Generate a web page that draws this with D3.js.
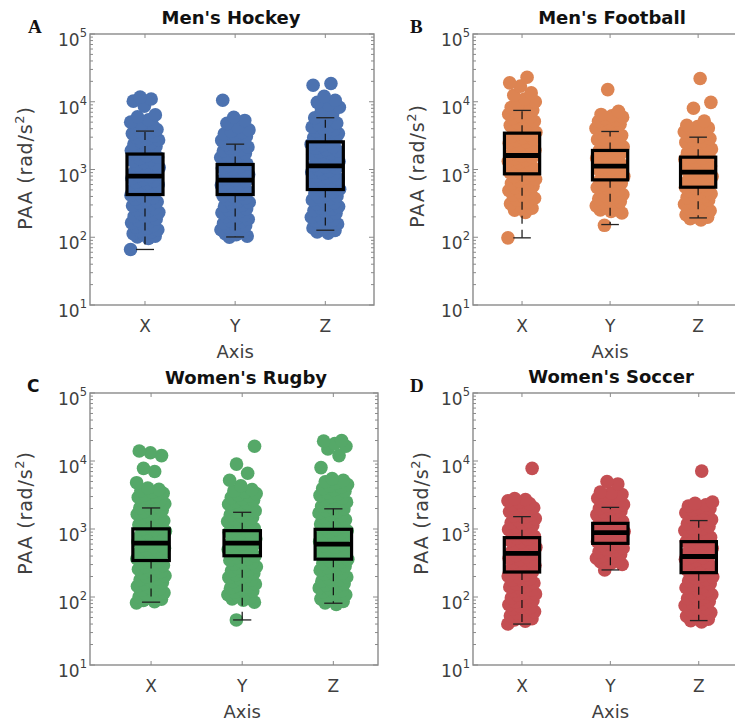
<!DOCTYPE html>
<html>
<head>
<meta charset="utf-8">
<script src="https://cdn.jsdelivr.net/npm/d3@7"></script>
<style>
  body { margin: 0; background: #fff; }
  svg { display: block; }
</style>
</head>
<body>
<div id="app"></div>
<script>
const categories = ['X', 'Y', 'Z'];
const yTickValues = [10, 100, 1000, 10000, 100000];

// box stats per axis: [lower whisker, q1, median, q3, upper whisker]
const hockeyBox = [[66, 427, 797, 1690, 3690], [101, 427, 695, 1186, 2366], [127, 506, 1133, 2560, 5810]];
const footballBox = [[98, 863, 1610, 3440, 7450], [154, 703, 1120, 1910, 3640], [193, 548, 913, 1520, 3000]];
const rugbyBox = [[84, 344, 620, 1005, 2040], [46, 404, 620, 945, 1760], [81, 360, 600, 990, 1980]];
const soccerBox = [[40, 233, 438, 746, 1520], [250, 615, 883, 1210, 2080], [45, 228, 394, 652, 1330]];

// PAA samples (rad/s^2)
const hockeyX = [66, 96, 101, 104, 110, 113, 119, 125, 129, 136, 142, 149, 155, 163, 170, 177, 186, 194, 203, 212, 222, 233, 244, 255, 266,
  279, 292, 305, 319, 334, 350, 366, 383, 400, 418, 437, 456, 478, 499, 522, 546, 571, 597, 624, 652, 682, 713, 746, 780, 815, 852, 891,
  932, 975, 1019, 1066, 1114, 1165, 1218, 1274, 1332, 1393, 1457, 1523, 1593, 1666, 1742, 1821, 1905, 1992, 2083, 2178, 2278, 2382, 2491,
  2605, 2724, 2848, 2979, 3115, 3257, 3406, 3562, 3725, 3895, 4073, 4260, 4455, 4650, 5000, 5400, 6000, 6400, 8600, 10200, 11000, 11700];
const hockeyY = [100, 104, 109, 113, 118, 124, 129, 135, 141, 148, 154, 161, 169, 176, 184, 193, 201, 210, 220, 230, 241, 252, 263, 275,
  288, 301, 315, 329, 344, 360, 377, 394, 412, 431, 451, 471, 493, 515, 539, 563, 589, 616, 644, 673, 704, 736, 770, 805, 842, 880, 920,
  962, 1006, 1052, 1100, 1150, 1203, 1258, 1315, 1375, 1438, 1504, 1572, 1644, 1719, 1797, 1879, 1965, 2055, 2149, 2247, 2350, 2457,
  2569, 2686, 2809, 2937, 3071, 3211, 3358, 3511, 3671, 3840, 4300, 4800, 5300, 5900, 10500];
const hockeyZ = [115, 120, 126, 131, 137, 144, 150, 157, 165, 172, 180, 189, 197, 207, 216, 226, 237, 248, 259, 271, 284, 297, 311, 325,
  340, 356, 372, 389, 407, 426, 446, 466, 488, 510, 534, 558, 584, 611, 639, 669, 699, 732, 765, 801, 838, 876, 917, 959, 1003, 1049,
  1098, 1148, 1201, 1257, 1315, 1375, 1439, 1505, 1574, 1647, 1723, 1802, 1885, 1972, 2063, 2158, 2258, 2362, 2471, 2585, 2704, 2828,
  2959, 3095, 3238, 3387, 3543, 3707, 3877, 4056, 4243, 4439, 4644, 4858, 5200, 5800, 6500, 7500, 8300, 9000, 9800, 10500, 12000, 17500, 18600];

const footballX = [98, 232, 250, 268, 290, 312, 335, 352, 376, 398, 420, 442, 465, 489, 515, 540, 566, 594, 623, 653, 684, 717, 752, 788,
  826, 866, 907, 951, 997, 1045, 1095, 1148, 1203, 1261, 1322, 1385, 1452, 1522, 1595, 1672, 1752, 1837, 1925, 2018, 2115, 2217, 2323,
  2435, 2552, 2675, 2804, 2939, 3080, 3229, 3384, 3547, 3718, 3897, 4084, 4281, 4487, 4703, 4929, 5166, 5415, 5675, 5949, 6235, 6535,
  6850, 7180, 7525, 7887, 8267, 8665, 9082, 10000, 11000, 12500, 13500, 17000, 19000, 23000];
const footballY = [150, 228, 240, 252, 264, 277, 291, 305, 320, 336, 352, 370, 388, 407, 427, 448, 470, 493, 517, 542, 569, 597, 626, 657,
  689, 723, 758, 795, 834, 875, 918, 963, 1010, 1060, 1111, 1166, 1223, 1283, 1346, 1412, 1481, 1553, 1630, 1709, 1793, 1881, 1973, 2070,
  2171, 2278, 2389, 2506, 2629, 2758, 2893, 3035, 3183, 3339, 3503, 3675, 3855, 4044, 4242, 4450, 4668, 4897, 5137, 5389, 5653, 5930,
  6220, 6500, 7200, 15100];
const footballZ = [180, 188, 197, 206, 215, 225, 235, 246, 257, 269, 281, 294, 307, 321, 336, 351, 367, 384, 401, 420, 439, 459, 480, 502,
  525, 549, 574, 600, 628, 656, 686, 718, 751, 785, 821, 858, 898, 939, 982, 1027, 1074, 1123, 1174, 1228, 1284, 1343, 1404, 1469, 1536,
  1606, 1680, 1757, 1837, 1921, 2009, 2101, 2197, 2298, 2403, 2513, 2628, 2748, 2874, 3006, 3143, 3287, 3438, 3595, 3760, 3932, 4112,
  4300, 4500, 5200, 8000, 9800, 22000];

const rugbyX = [82, 85, 89, 93, 97, 101, 106, 110, 115, 121, 126, 132, 138, 144, 150, 157, 164, 172, 179, 188, 196, 205, 214, 224, 234,
  245, 256, 267, 279, 292, 305, 319, 334, 349, 365, 381, 398, 416, 435, 455, 476, 497, 520, 543, 568, 594, 620, 649, 678, 709, 741, 775,
  810, 846, 885, 925, 967, 1011, 1056, 1104, 1154, 1207, 1262, 1319, 1379, 1441, 1506, 1575, 1646, 1721, 1799, 1880, 1966, 2055, 2148,
  2245, 2347, 2454, 2565, 2681, 2803, 2930, 3063, 3202, 3347, 3499, 3657, 3823, 4000, 4800, 7000, 7800, 12000, 13200, 14000];
const rugbyY = [46, 84, 90, 94, 98, 103, 108, 113, 118, 123, 129, 135, 141, 148, 155, 162, 169, 177, 185, 194, 203, 212, 222, 232, 243,
  254, 266, 278, 291, 304, 318, 333, 348, 364, 381, 399, 417, 436, 457, 478, 500, 523, 547, 572, 598, 626, 655, 685, 717, 750, 784, 820,
  858, 898, 939, 983, 1028, 1075, 1125, 1177, 1231, 1288, 1347, 1409, 1474, 1542, 1613, 1688, 1765, 1847, 1932, 2021, 2114, 2211, 2313,
  2420, 2531, 2648, 2770, 2898, 3031, 3171, 3317, 3470, 3630, 3800, 4300, 5200, 6600, 9000, 16500];
const rugbyZ = [78, 82, 86, 90, 94, 99, 103, 108, 113, 119, 124, 130, 136, 143, 149, 156, 164, 171, 179, 188, 197, 206, 216, 226, 237,
  248, 260, 272, 285, 298, 312, 327, 342, 358, 375, 393, 411, 431, 451, 472, 495, 518, 542, 568, 595, 623, 652, 683, 715, 749, 784, 821,
  860, 900, 943, 987, 1034, 1083, 1134, 1187, 1243, 1302, 1363, 1428, 1495, 1565, 1639, 1717, 1798, 1882, 1971, 2064, 2162, 2263, 2370,
  2482, 2599, 2722, 2850, 2985, 3125, 3273, 3427, 3589, 3758, 3935, 4121, 4315, 4519, 4732, 4955, 5189, 5500, 8000, 12000, 15000, 16500,
  18000, 19600, 20000];

const soccerX = [40, 44, 46, 48, 50, 53, 55, 58, 61, 64, 67, 70, 73, 77, 80, 84, 88, 92, 97, 101, 106, 111, 116, 122, 128, 134, 140, 147,
  154, 161, 169, 177, 185, 194, 203, 213, 223, 233, 244, 256, 268, 281, 294, 308, 323, 338, 354, 371, 388, 407, 426, 446, 467, 490, 513,
  537, 563, 589, 617, 647, 677, 710, 743, 778, 815, 854, 894, 937, 981, 1028, 1076, 1127, 1181, 1237, 1295, 1357, 1421, 1488, 1559, 1633,
  1710, 1791, 1876, 1965, 2058, 2156, 2258, 2365, 2477, 2594, 2717, 2800, 7800];
const soccerY = [250, 300, 313, 327, 341, 356, 372, 388, 405, 423, 442, 461, 482, 503, 525, 548, 572, 598, 624, 652, 680, 710, 742, 774,
  809, 844, 882, 920, 961, 1003, 1048, 1094, 1142, 1193, 1245, 1300, 1358, 1418, 1480, 1546, 1614, 1685, 1760, 1838, 1919, 2004, 2092,
  2185, 2281, 2382, 2487, 2597, 2712, 2832, 2957, 3088, 3224, 3367, 3500, 4600, 5000];
const soccerZ = [43, 45, 47, 49, 52, 54, 57, 59, 62, 65, 68, 72, 75, 79, 82, 86, 90, 95, 99, 104, 109, 114, 119, 125, 131, 137, 143, 150,
  157, 165, 172, 181, 189, 198, 207, 217, 227, 238, 249, 261, 273, 286, 300, 314, 329, 344, 360, 377, 395, 414, 433, 454, 475, 497, 521,
  545, 571, 598, 626, 656, 687, 719, 753, 788, 826, 865, 905, 948, 993, 1040, 1089, 1140, 1194, 1250, 1309, 1371, 1436, 1504, 1575, 1649,
  1727, 1808, 1893, 1983, 2076, 2174, 2277, 2384, 2500, 7100];

const panels = [
  { letter: 'A', letterFont: 'Liberation Serif', title: "Men's Hockey", color: '#4c72b0',
    values: [hockeyX, hockeyY, hockeyZ], box: hockeyBox,
    left: 90, right: 374, top: 34, bottom: 305, xDomain: [0.39, 3.54],
    titleX: 231, titleY: 24, letterX: 28, letterY: 33, ylabX: 32, ylabY: 168 },
  { letter: 'B', letterFont: 'Liberation Serif', title: "Men's Football", color: '#dd8452',
    values: [footballX, footballY, footballZ], box: footballBox,
    left: 473, right: 747, top: 34, bottom: 305, xDomain: [0.443, 3.555],
    titleX: 612, titleY: 24, letterX: 410, letterY: 33, ylabX: 424, ylabY: 166 },
  { letter: 'C', letterFont: 'DejaVu Sans', title: "Women's Rugby", color: '#55a868',
    values: [rugbyX, rugbyY, rugbyZ], box: rugbyBox,
    left: 90, right: 378, top: 393, bottom: 665, xDomain: [0.33, 3.49],
    titleX: 246, titleY: 384, letterX: 27, letterY: 392, ylabX: 32, ylabY: 513 },
  { letter: 'D', letterFont: 'Liberation Serif', title: "Women's Soccer", color: '#c44e52',
    values: [soccerX, soccerY, soccerZ], box: soccerBox,
    left: 473, right: 747, top: 393, bottom: 665, xDomain: [0.446, 3.546],
    titleX: 611, titleY: 383, letterX: 410, letterY: 392, ylabX: 428, ylabY: 513 }
];

const svg = d3.select('#app')
  .append('svg')
  .attr('width', 735)
  .attr('height', 725)
  .style('font-family', 'DejaVu Sans, sans-serif');

const axisColor = '#8a8a8a';
const textColor = '#404040';
const golden = 0.6180339887;

panels.forEach(p => {
  const g = svg.append('g');

  const x = d3.scaleLinear().domain(p.xDomain).range([p.left, p.right]);
  const y = d3.scaleLog().domain([10, 100000]).range([p.bottom, p.top]);

  const jitter = 0.16;
  const boxHalf = 0.2;
  const capHalf = 0.1;

  // scatter clouds, spread sideways with a golden-ratio sequence
  p.values.forEach((vals, ci) => {
    g.append('g')
      .attr('fill', p.color)
      .selectAll('circle')
      .data(vals)
      .join('circle')
      .attr('cx', (d, i) => x(ci + 1 + (((i * golden + ci * 0.3) % 1) * 2 - 1) * jitter))
      .attr('cy', d => y(d))
      .attr('r', 6.8);
  });

  // box plots
  p.box.forEach((b, ci) => {
    const c = ci + 1;
    const [lo, q1, med, q3, hi] = b;
    const bg = g.append('g');

    bg.append('line')
      .attr('x1', x(c)).attr('x2', x(c))
      .attr('y1', y(q3)).attr('y2', y(hi))
      .attr('stroke', '#111').attr('stroke-width', 1.2)
      .attr('stroke-dasharray', '8,6');
    bg.append('line')
      .attr('x1', x(c)).attr('x2', x(c))
      .attr('y1', y(q1)).attr('y2', y(lo))
      .attr('stroke', '#111').attr('stroke-width', 1.2)
      .attr('stroke-dasharray', '8,6');

    [lo, hi].forEach(v => {
      bg.append('line')
        .attr('x1', x(c - capHalf)).attr('x2', x(c + capHalf))
        .attr('y1', y(v)).attr('y2', y(v))
        .attr('stroke', '#222').attr('stroke-width', 1.3);
    });

    bg.append('rect')
      .attr('x', x(c - boxHalf))
      .attr('y', y(q3))
      .attr('width', x(c + boxHalf) - x(c - boxHalf))
      .attr('height', y(q1) - y(q3))
      .attr('fill', 'none')
      .attr('stroke', '#000')
      .attr('stroke-width', 3.2);

    bg.append('line')
      .attr('x1', x(c - boxHalf)).attr('x2', x(c + boxHalf))
      .attr('y1', y(med)).attr('y2', y(med))
      .attr('stroke', '#000').attr('stroke-width', 4.8);
  });

  // axes box
  g.append('rect')
    .attr('x', p.left).attr('y', p.top)
    .attr('width', p.right - p.left).attr('height', p.bottom - p.top)
    .attr('fill', 'none')
    .attr('stroke', axisColor)
    .attr('stroke-width', 1.4);

  // y ticks, major and minor, inward on both sides
  y.ticks().forEach(t => {
    const major = Math.abs(Math.log10(t) - Math.round(Math.log10(t))) < 1e-9;
    const len = major ? 5 : 3;
    g.append('line')
      .attr('x1', p.left).attr('x2', p.left + len)
      .attr('y1', y(t)).attr('y2', y(t))
      .attr('stroke', axisColor).attr('stroke-width', 1);
    g.append('line')
      .attr('x1', p.right).attr('x2', p.right - len)
      .attr('y1', y(t)).attr('y2', y(t))
      .attr('stroke', axisColor).attr('stroke-width', 1);
  });

  yTickValues.forEach(t => {
    const label = g.append('text')
      .attr('x', p.left - 3)
      .attr('y', y(t) + 12)
      .attr('text-anchor', 'end')
      .attr('fill', textColor)
      .style('font-size', '17px')
      .text('10');
    label.append('tspan')
      .attr('dy', -9)
      .style('font-size', '11.5px')
      .text(Math.round(Math.log10(t)));
  });

  // x ticks top and bottom
  categories.forEach((cat, ci) => {
    const cx = x(ci + 1);
    g.append('line')
      .attr('x1', cx).attr('x2', cx)
      .attr('y1', p.bottom).attr('y2', p.bottom - 4)
      .attr('stroke', axisColor).attr('stroke-width', 1);
    g.append('line')
      .attr('x1', cx).attr('x2', cx)
      .attr('y1', p.top).attr('y2', p.top + 4)
      .attr('stroke', axisColor).attr('stroke-width', 1);
    g.append('text')
      .attr('x', cx)
      .attr('y', p.bottom + 27)
      .attr('text-anchor', 'middle')
      .attr('fill', textColor)
      .style('font-size', '17px')
      .text(cat);
  });

  g.append('text')
    .attr('x', x(2))
    .attr('y', p.bottom + 53)
    .attr('text-anchor', 'middle')
    .attr('fill', textColor)
    .style('font-size', '18px')
    .text('Axis');

  const ylab = g.append('text')
    .attr('transform', `translate(${p.ylabX},${p.ylabY}) rotate(-90)`)
    .attr('text-anchor', 'middle')
    .attr('fill', textColor)
    .style('font-size', '19px')
    .style('letter-spacing', '0.8px')
    .text('PAA (rad/s');
  ylab.append('tspan').attr('dy', -8).style('font-size', '13px').text('2');
  ylab.append('tspan').attr('dy', 8).text(')');

  g.append('text')
    .attr('x', p.titleX)
    .attr('y', p.titleY)
    .attr('text-anchor', 'middle')
    .attr('fill', '#111')
    .style('font-size', '18px')
    .style('font-weight', 'bold')
    .text(p.title);

  g.append('text')
    .attr('x', p.letterX)
    .attr('y', p.letterY)
    .attr('fill', '#111')
    .style('font-family', p.letterFont)
    .style('font-size', p.letterFont === 'DejaVu Sans' ? '17px' : '19px')
    .style('font-weight', 'bold')
    .text(p.letter);
});
</script>
</body>
</html>
